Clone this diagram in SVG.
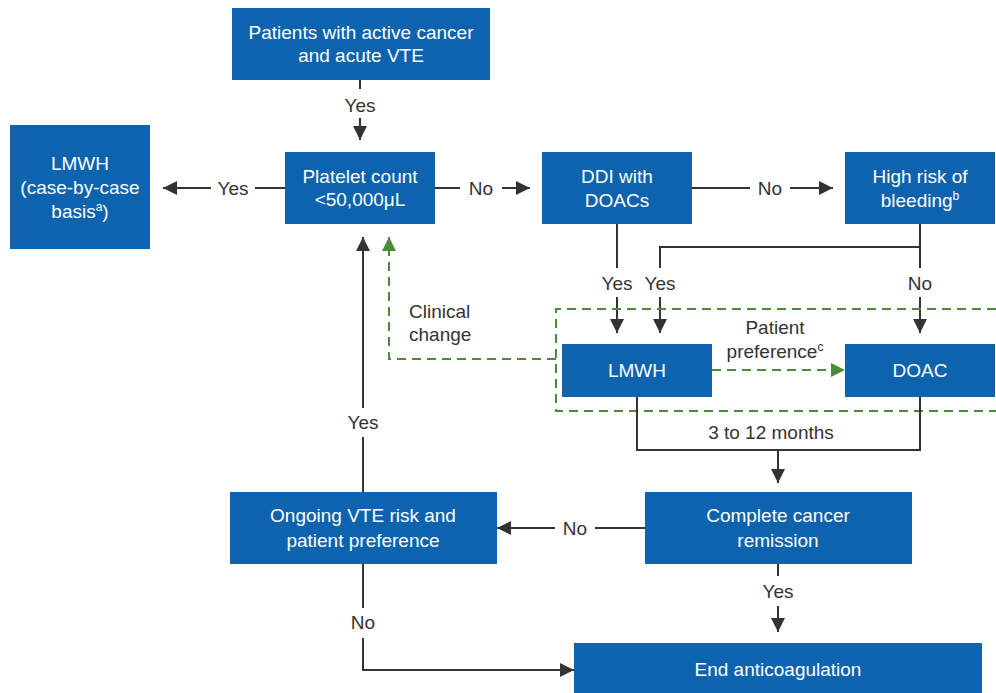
<svg xmlns="http://www.w3.org/2000/svg" width="996" height="693" viewBox="0 0 996 693">
<style>
.box{fill:#0d63ae}
.bt{fill:#ffffff;font-family:"Liberation Sans",Arial,sans-serif;font-size:19px;text-anchor:middle}
.lbl{fill:#333333;font-family:"Liberation Sans",Arial,sans-serif;font-size:19px;text-anchor:middle}
.ln{fill:none;stroke:#333333;stroke-width:2}
.gd{fill:none;stroke:#4b8b3b;stroke-width:2;stroke-dasharray:9 6}
</style>
<defs>
<marker id="ah" markerUnits="userSpaceOnUse" markerWidth="14" markerHeight="14" refX="14" refY="7" orient="auto"><path d="M0,0 L14,7 L0,14 z" fill="#333333"/></marker>
<marker id="ag" markerUnits="userSpaceOnUse" markerWidth="14" markerHeight="14" refX="14" refY="7" orient="auto"><path d="M0,0 L14,7 L0,14 z" fill="#4b8b3b"/></marker>
</defs>
<rect width="996" height="693" fill="#ffffff"/>
<g id="connectors">
<line class="ln" x1="360" y1="80" x2="360" y2="89"/>
<text class="lbl" x="360" y="112">Yes</text>
<line class="ln" x1="360" y1="118" x2="360" y2="140" marker-end="url(#ah)"/>
<line class="ln" x1="285" y1="188" x2="255" y2="188"/>
<text class="lbl" x="233" y="195">Yes</text>
<line class="ln" x1="211" y1="188" x2="163" y2="188" marker-end="url(#ah)"/>
<line class="ln" x1="435" y1="188" x2="460" y2="188"/>
<text class="lbl" x="481" y="195">No</text>
<line class="ln" x1="502" y1="188" x2="530" y2="188" marker-end="url(#ah)"/>
<line class="ln" x1="692" y1="188" x2="750" y2="188"/>
<text class="lbl" x="770" y="195">No</text>
<line class="ln" x1="790" y1="188" x2="833" y2="188" marker-end="url(#ah)"/>
<line class="ln" x1="617" y1="224" x2="617" y2="268"/>
<text class="lbl" x="617" y="290">Yes</text>
<line class="ln" x1="617" y1="297" x2="617" y2="333" marker-end="url(#ah)"/>
<path class="ln" d="M920,224 V268 M920,247 H660 V268"/>
<text class="lbl" x="660" y="290">Yes</text>
<line class="ln" x1="660" y1="297" x2="660" y2="333" marker-end="url(#ah)"/>
<text class="lbl" x="920" y="290">No</text>
<line class="ln" x1="920" y1="297" x2="920" y2="333" marker-end="url(#ah)"/>
<path class="gd" d="M996,309 H556 V411 H996"/>
<line class="gd" x1="712" y1="370" x2="845" y2="370" marker-end="url(#ag)"/>
<text class="lbl" x="775" y="334">Patient</text>
<text class="lbl" x="775" y="358">preference<tspan font-size="12" dy="-7">c</tspan></text>
<path class="gd" d="M556,359 H389 V237" marker-end="url(#ag)"/>
<text class="lbl" x="409" y="318" style="text-anchor:start">Clinical</text>
<text class="lbl" x="409" y="341" style="text-anchor:start">change</text>
<line class="ln" x1="363" y1="492" x2="363" y2="437"/>
<text class="lbl" x="363" y="429">Yes</text>
<line class="ln" x1="363" y1="408" x2="363" y2="237" marker-end="url(#ah)"/>
<path class="ln" d="M637,397 V450 H920 V397"/>
<text class="lbl" x="771" y="439">3 to 12 months</text>
<line class="ln" x1="778" y1="450" x2="778" y2="483" marker-end="url(#ah)"/>
<line class="ln" x1="645" y1="528" x2="595" y2="528"/>
<text class="lbl" x="575" y="535">No</text>
<line class="ln" x1="555" y1="528" x2="497" y2="528" marker-end="url(#ah)"/>
<line class="ln" x1="778" y1="564" x2="778" y2="576"/>
<text class="lbl" x="778" y="598">Yes</text>
<line class="ln" x1="778" y1="606" x2="778" y2="632" marker-end="url(#ah)"/>
<line class="ln" x1="363" y1="564" x2="363" y2="608"/>
<text class="lbl" x="363" y="629">No</text>
<path class="ln" d="M363,638 V670 H574" marker-end="url(#ah)"/>
</g>
<g id="start">
<rect class="box" x="232" y="8" width="258" height="72"/>
<text class="bt" x="361" y="39">Patients with active cancer</text>
<text class="bt" x="361" y="62">and acute VTE</text>
</g>
<g id="platelet">
<rect class="box" x="285" y="152" width="150" height="72"/>
<text class="bt" x="360" y="183">Platelet count</text>
<text class="bt" x="360" y="206">&lt;50,000μL</text>
</g>
<g id="lmwh-case">
<rect class="box" x="10" y="125" width="140" height="124"/>
<text class="bt" x="80" y="170">LMWH</text>
<text class="bt" x="80" y="194">(case-by-case</text>
<text class="bt" x="80" y="218">basis<tspan font-size="12" dy="-7">a</tspan><tspan dy="7">)</tspan></text>
</g>
<g id="ddi">
<rect class="box" x="542" y="152" width="150" height="72"/>
<text class="bt" x="617" y="183">DDI with</text>
<text class="bt" x="617" y="207">DOACs</text>
</g>
<g id="bleeding">
<rect class="box" x="845" y="152" width="150" height="72"/>
<text class="bt" x="920" y="183">High risk of</text>
<text class="bt" x="920" y="207">bleeding<tspan font-size="12" dy="-7">b</tspan></text>
</g>
<g id="lmwh">
<rect class="box" x="562" y="344" width="150" height="53"/>
<text class="bt" x="637" y="377">LMWH</text>
</g>
<g id="doac">
<rect class="box" x="845" y="344" width="150" height="53"/>
<text class="bt" x="920" y="377">DOAC</text>
</g>
<g id="ongoing">
<rect class="box" x="230" y="492" width="267" height="72"/>
<text class="bt" x="363" y="522">Ongoing VTE risk and</text>
<text class="bt" x="363" y="547">patient preference</text>
</g>
<g id="remission">
<rect class="box" x="645" y="492" width="267" height="72"/>
<text class="bt" x="778" y="522">Complete cancer</text>
<text class="bt" x="778" y="547">remission</text>
</g>
<g id="end">
<rect class="box" x="574" y="643" width="408" height="50"/>
<text class="bt" x="778" y="676">End anticoagulation</text>
</g>
</svg>
